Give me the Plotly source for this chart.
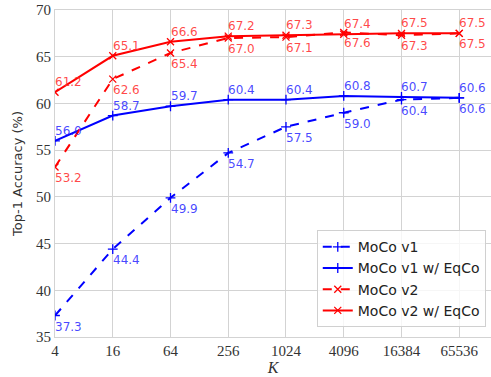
import plotly.graph_objects as go

K_labels = ["4", "16", "64", "256", "1024", "4096", "16384", "65536"]
moco_v1 = [37.3, 44.4, 49.9, 54.7, 57.5, 59.0, 60.4, 60.6]
moco_v1_eqco = [56.0, 58.7, 59.7, 60.4, 60.4, 60.8, 60.7, 60.6]
moco_v2 = [53.2, 62.6, 65.4, 67.0, 67.1, 67.6, 67.3, 67.5]
moco_v2_eqco = [61.2, 65.1, 66.6, 67.2, 67.3, 67.4, 67.5, 67.5]

xs = list(range(len(K_labels)))
BLUE = "#0000ff"
RED = "#ff0000"
BLUE_T = "rgba(40,40,255,0.85)"
RED_T = "rgba(255,40,40,0.85)"

series = [
    ("MoCo v1", moco_v1, BLUE, "dash", "cross-thin", BLUE_T, "below"),
    ("MoCo v1 w/ EqCo", moco_v1_eqco, BLUE, "solid", "cross-thin", BLUE_T, "above"),
    ("MoCo v2", moco_v2, RED, "dash", "x-thin", RED_T, "below"),
    ("MoCo v2 w/ EqCo", moco_v2_eqco, RED, "solid", "x-thin", RED_T, "above"),
]

fig = go.Figure()
annotations = []
for name, ys, col, dash, sym, tcol, pos in series:
    fig.add_trace(go.Scatter(
        x=xs, y=ys, name=name, mode="lines+markers",
        line=dict(color=col, width=2, dash=dash),
        marker=dict(symbol=sym, size=7, color=col, line=dict(color=col, width=1.3)),
    ))
    for x, y in zip(xs, ys):
        annotations.append(dict(
            x=x, y=y, xref="x", yref="y", text=f"{y:.1f}", showarrow=False,
            xanchor="left", yanchor="bottom" if pos == "above" else "top",
            xshift=-2, yshift=1 if pos == "above" else -2,
            font=dict(family="DejaVu Sans", size=12, color=tcol),
        ))

fig.update_layout(
    width=491, height=377,
    margin=dict(l=55, r=0, t=10, b=40),
    plot_bgcolor="white", paper_bgcolor="white",
    annotations=annotations,
    showlegend=True,
    legend=dict(
        x=0.988, y=0.03, xanchor="right", yanchor="bottom",
        bgcolor="rgba(255,255,255,0.8)", bordercolor="#d0d0d0", borderwidth=1,
        font=dict(family="DejaVu Sans", size=14, color="#222222"),
        tracegroupgap=0, itemwidth=30,
    ),
    xaxis=dict(
        range=[0, 7.55], tickmode="array", tickvals=xs, ticktext=K_labels,
        showgrid=True, gridcolor="#d3d3d3", gridwidth=1,
        showline=True, linecolor="#d3d3d3", mirror=True, zeroline=False,
        tickfont=dict(family="Liberation Serif", size=15, color="#333333"),
        title=dict(text="<i>K</i>", font=dict(family="Liberation Serif", size=16, color="#333333"), standoff=2),
        ticks="",
    ),
    yaxis=dict(
        range=[35, 70], tickmode="array", tickvals=[35, 40, 45, 50, 55, 60, 65, 70],
        showgrid=True, gridcolor="#d3d3d3", gridwidth=1,
        showline=True, linecolor="#d3d3d3", mirror=True, zeroline=False,
        tickfont=dict(family="Liberation Serif", size=15, color="#333333"),
        title=dict(text="Top-1 Accuracy (%)", font=dict(family="DejaVu Sans", size=13, color="#333333"), standoff=10),
        ticks="",
    ),
)

fig.write_html("out.html")
